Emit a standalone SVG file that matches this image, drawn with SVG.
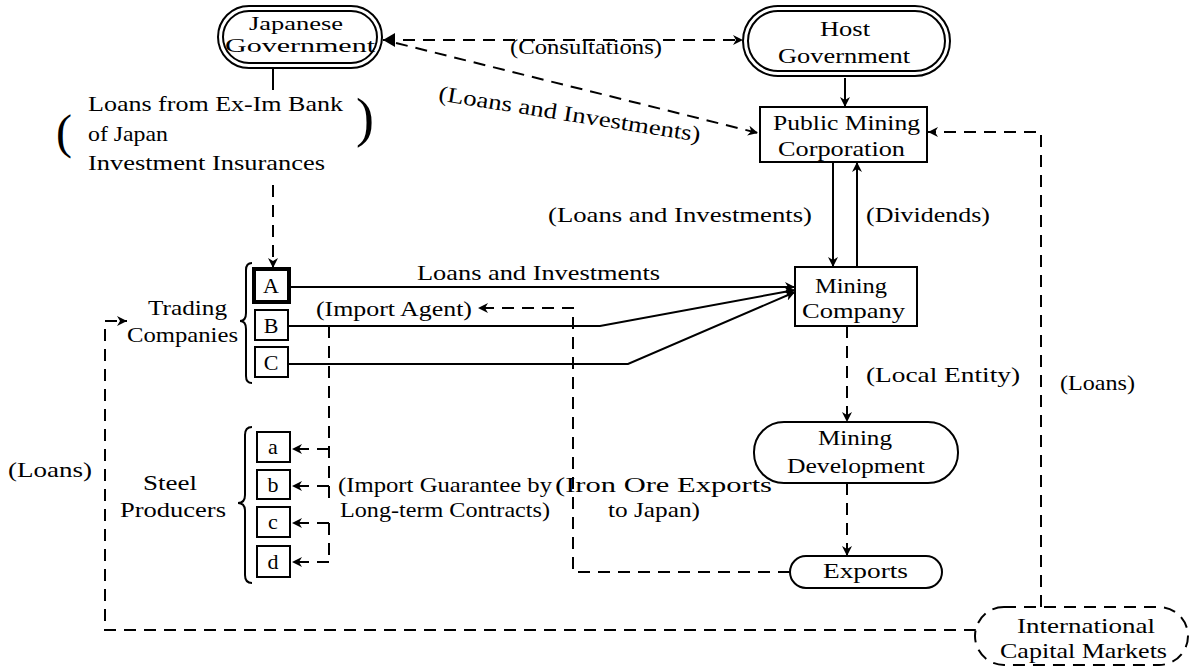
<svg xmlns="http://www.w3.org/2000/svg" width="1191" height="667" viewBox="0 0 1191 667">
<style>
.t{font-family:"Liberation Serif","Times New Roman",serif;font-size:22px;fill:#000}
.s{font-size:18px}
.k{font-size:22px}
.n{fill:none;stroke:#000;stroke-width:2}
.b{fill:#fff;stroke:#000;stroke-width:2}
.d{stroke-dasharray:12 8}
</style>
<defs>
<marker id="ah" markerWidth="11" markerHeight="10" refX="10" refY="5" orient="auto" markerUnits="userSpaceOnUse">
<path d="M0,0 L10,5 L0,10 L3,5 z" fill="#000"/>
</marker>
<marker id="ab" markerWidth="13" markerHeight="14" refX="12" refY="7" orient="auto-start-reverse" markerUnits="userSpaceOnUse">
<path d="M0,0 L12,7 L0,14 z" fill="#000"/>
</marker>
</defs>
<rect width="1191" height="667" fill="#fff"/>

<g id="connectors">
<path class="n d" d="M383,40 H743" marker-start="url(#ab)" marker-end="url(#ah)"/>
<path class="n d" d="M396,43 L758,133" marker-end="url(#ah)"/>
<path class="n" d="M273,68 V90"/>
<path class="n d" d="M273,185 V268" marker-end="url(#ah)"/>
<path class="n" d="M845,78 V107" marker-end="url(#ah)"/>
<path class="n" d="M833,162 V267" marker-end="url(#ah)"/>
<path class="n" d="M857,267 V162" marker-end="url(#ah)"/>
<path class="n d" d="M1041,607 V132 H928" marker-end="url(#ah)"/>
<path class="n" d="M291,287 H795" marker-end="url(#ah)"/>
<path class="n" d="M289,326 H600 L795,290" marker-end="url(#ah)"/>
<path class="n" d="M289,364 H628 L795,292" marker-end="url(#ah)"/>
<path class="n d" d="M790,572 H573 V308 H478" marker-end="url(#ah)"/>
<path class="n d" d="M329,326 V500"/>
<path class="n d" d="M329,449 H292" marker-end="url(#ah)"/>
<path class="n d" d="M329,486 H292" marker-end="url(#ah)"/>
<path class="n d" d="M329,523 V562"/>
<path class="n d" d="M329,523 H292" marker-end="url(#ah)"/>
<path class="n d" d="M329,562 H292" marker-end="url(#ah)"/>
<path class="n d" d="M847,326 V422" marker-end="url(#ah)"/>
<path class="n d" d="M847,483 V556" marker-end="url(#ah)"/>
<path class="n d" d="M976,630 H105 V321 H127" marker-end="url(#ah)"/>
</g>

<g id="labels">
<text class="t" x="510" y="54" textLength="152" lengthAdjust="spacingAndGlyphs">(Consultations)</text>
<text class="t" transform="translate(568,121) rotate(9)" x="-132" y="0" textLength="265" lengthAdjust="spacingAndGlyphs">(Loans and Investments)</text>
<text class="t" x="548" y="222" textLength="264" lengthAdjust="spacingAndGlyphs">(Loans and Investments)</text>
<text class="t" x="866" y="222" textLength="124" lengthAdjust="spacingAndGlyphs">(Dividends)</text>
<text class="t" x="417" y="280" textLength="243" lengthAdjust="spacingAndGlyphs">Loans and Investments</text>
<text class="t" x="316" y="316" textLength="156" lengthAdjust="spacingAndGlyphs">(Import Agent)</text>
<text class="t" x="866" y="382" textLength="154" lengthAdjust="spacingAndGlyphs">(Local Entity)</text>
<text class="t" x="1060" y="390" textLength="75" lengthAdjust="spacingAndGlyphs">(Loans)</text>
<text class="t" x="8" y="477" textLength="84" lengthAdjust="spacingAndGlyphs">(Loans)</text>
<text class="t" x="338" y="492" textLength="214" lengthAdjust="spacingAndGlyphs">(Import Guarantee by</text>
<text class="t" x="340" y="517" textLength="210" lengthAdjust="spacingAndGlyphs">Long-term Contracts)</text>
<text class="t" x="555" y="492" textLength="217" lengthAdjust="spacingAndGlyphs">(Iron Ore Exports</text>
<text class="t" x="608" y="517" textLength="92" lengthAdjust="spacingAndGlyphs">to Japan)</text>
<text class="t" x="88" y="111" textLength="255" lengthAdjust="spacingAndGlyphs">Loans from Ex-Im Bank</text>
<text class="t" x="88" y="141" textLength="80" lengthAdjust="spacingAndGlyphs">of Japan</text>
<text class="t" x="88" y="170" textLength="237" lengthAdjust="spacingAndGlyphs">Investment Insurances</text>
<text class="t" x="56" y="148" style="font-size:48px">(</text>
<text class="t" x="356" y="136" style="font-size:54px">)</text>
</g>

<g id="japanese-government">
<rect class="b" x="218" y="6" width="164" height="62" rx="31"/>
<rect class="n" x="223" y="11" width="154" height="52" rx="26"/>
<text class="t s" x="249" y="30" textLength="94" lengthAdjust="spacingAndGlyphs">Japanese</text>
<text class="t s" x="225" y="52" textLength="150" lengthAdjust="spacingAndGlyphs">Government</text>
</g>

<g id="host-government">
<rect class="b" x="743" y="6" width="207" height="70" rx="35"/>
<rect class="n" x="748" y="11" width="197" height="60" rx="30"/>
<text class="t" x="820" y="36" textLength="50" lengthAdjust="spacingAndGlyphs">Host</text>
<text class="t" x="778" y="63" textLength="132" lengthAdjust="spacingAndGlyphs">Government</text>
</g>

<g id="public-mining-corporation">
<rect class="b" x="760" y="107" width="167" height="55"/>
<text class="t" x="773" y="130" textLength="147" lengthAdjust="spacingAndGlyphs">Public Mining</text>
<text class="t" x="778" y="156" textLength="127" lengthAdjust="spacingAndGlyphs">Corporation</text>
</g>

<g id="mining-company">
<rect class="b" x="795" y="267" width="122" height="59"/>
<text class="t" x="815" y="293" textLength="72" lengthAdjust="spacingAndGlyphs">Mining</text>
<text class="t" x="802" y="318" textLength="103" lengthAdjust="spacingAndGlyphs">Company</text>
</g>

<g id="trading-companies">
<text class="t" x="148" y="315" textLength="79" lengthAdjust="spacingAndGlyphs">Trading</text>
<text class="t" x="127" y="342" textLength="111" lengthAdjust="spacingAndGlyphs">Companies</text>
<path class="n" d="M252,263 Q246,263 246,270 V313 Q246,321 240,321 Q246,321 246,329 V376 Q246,383 252,383"/>
</g>
<g id="company-A">
<rect x="254" y="269" width="35" height="33" fill="#fff" stroke="#000" stroke-width="4"/>
<text class="t k" x="271" y="293" text-anchor="middle">A</text>
</g>
<g id="company-B">
<rect class="b" x="255" y="310" width="33" height="30"/>
<text class="t k" x="271" y="333" text-anchor="middle">B</text>
</g>
<g id="company-C">
<rect class="b" x="255" y="347" width="33" height="30"/>
<text class="t k" x="271" y="370" text-anchor="middle">C</text>
</g>

<g id="steel-producers">
<text class="t" x="143" y="490" textLength="54" lengthAdjust="spacingAndGlyphs">Steel</text>
<text class="t" x="120" y="517" textLength="106" lengthAdjust="spacingAndGlyphs">Producers</text>
<path class="n" d="M252,427 Q245,427 245,435 V495 Q245,503 238,503 Q245,503 245,511 V575 Q245,583 252,583"/>
</g>
<g id="producer-a">
<rect class="b" x="257" y="432" width="33" height="30"/>
<text class="t k" x="273" y="454" text-anchor="middle">a</text>
</g>
<g id="producer-b">
<rect class="b" x="257" y="470" width="33" height="29"/>
<text class="t k" x="273" y="492" text-anchor="middle">b</text>
</g>
<g id="producer-c">
<rect class="b" x="257" y="507" width="33" height="30"/>
<text class="t k" x="273" y="529" text-anchor="middle">c</text>
</g>
<g id="producer-d">
<rect class="b" x="257" y="546" width="33" height="31"/>
<text class="t k" x="273" y="569" text-anchor="middle">d</text>
</g>

<g id="mining-development">
<rect class="b" x="754" y="422" width="204" height="61" rx="30"/>
<text class="t" x="818" y="445" textLength="74" lengthAdjust="spacingAndGlyphs">Mining</text>
<text class="t" x="787" y="473" textLength="138" lengthAdjust="spacingAndGlyphs">Development</text>
</g>

<g id="exports">
<rect class="b" x="790" y="556" width="152" height="32" rx="16"/>
<text class="t" x="823" y="578" textLength="85" lengthAdjust="spacingAndGlyphs">Exports</text>
</g>

<g id="international-capital-markets">
<rect class="b d" x="975" y="607" width="213" height="58" rx="29"/>
<text class="t" x="1017" y="633" textLength="138" lengthAdjust="spacingAndGlyphs">International</text>
<text class="t" x="1000" y="658" textLength="167" lengthAdjust="spacingAndGlyphs">Capital Markets</text>
</g>
</svg>
